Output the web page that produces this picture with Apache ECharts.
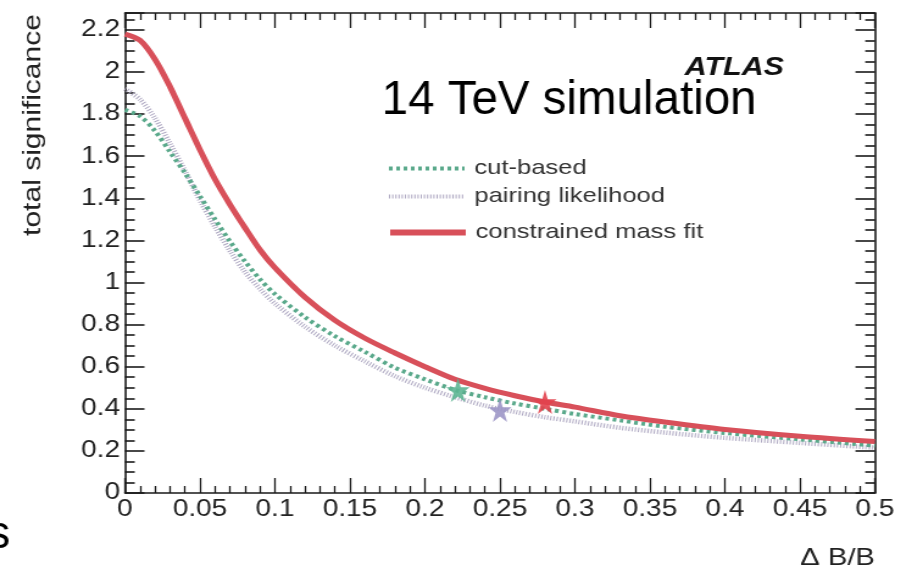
<!DOCTYPE html>
<html>
<head>
<meta charset="utf-8">
<script src="https://cdn.jsdelivr.net/npm/echarts@6/dist/echarts.min.js"></script>
<style>
  html, body { margin: 0; padding: 0; background: #fff; overflow: hidden; }
  /* the plot is laid out on a narrower canvas and widened horizontally */
  #chart { position: absolute; left: 0; top: 0; width: 748px; height: 571px;
           transform: scaleX(1.2193); transform-origin: 0 0; }
</style>
</head>
<body>
<div id="chart"></div>
<script>
// relative background uncertainty (Delta B / B)
const deltaB = [0, 0.01, 0.02, 0.03, 0.04, 0.05, 0.06, 0.07, 0.08, 0.09, 0.10,
                0.12, 0.14, 0.16, 0.18, 0.20, 0.22, 0.24, 0.26, 0.28, 0.30,
                0.33, 0.36, 0.40, 0.45, 0.50];

// total significance for each analysis strategy
const cutBased = [1.82, 1.79, 1.72, 1.62, 1.52, 1.41, 1.30, 1.195, 1.10, 1.015, 0.945,
                  0.835, 0.745, 0.67, 0.595, 0.54, 0.49, 0.455, 0.425, 0.40, 0.375,
                  0.345, 0.315, 0.285, 0.255, 0.225];
const pairingLikelihood = [1.92, 1.87, 1.78, 1.66, 1.53, 1.39, 1.265, 1.15, 1.05, 0.97, 0.90,
                           0.79, 0.70, 0.625, 0.555, 0.50, 0.455, 0.415, 0.385, 0.36, 0.34,
                           0.31, 0.287, 0.262, 0.238, 0.215];
const constrainedMassFit = [2.18, 2.15, 2.06, 1.93, 1.78, 1.63, 1.49, 1.37, 1.26, 1.155, 1.07,
                            0.93, 0.82, 0.735, 0.665, 0.60, 0.54, 0.497, 0.462, 0.432, 0.408,
                            0.367, 0.337, 0.302, 0.27, 0.245];

// expected working points (star markers)
const workingPointNames = ['cut-based', 'pairing likelihood', 'constrained mass fit'];
const workingPointX = [0.222, 0.25, 0.28];
const workingPointY = [0.489, 0.394, 0.432];

const seriesNames = ['cut-based', 'pairing likelihood', 'constrained mass fit'];
const xRange = [0, 0.5];
const yRange = [0, 2.28];

const SX = 1.2193;            // horizontal widening of the canvas
const FONT = 'Liberation Sans, Arial, Helvetica, sans-serif';

const pairs = ys => deltaB.map((x, i) => [x, ys[i]]);

const STAR = 'path://M50,0 L61.2,34.5 L97.6,34.5 L68.2,55.9 L79.4,90.5 L50,69.1 L20.6,90.5 L31.8,55.9 L2.4,34.5 L38.8,34.5 Z';
const starColors = ['#5cb592', '#9c96c6', '#e2414c'];

const chart = echarts.init(document.getElementById('chart'), null, { renderer: 'canvas', width: 748, height: 571 });

const axisLine = { show: true, onZero: false, lineStyle: { color: '#1a1a1a', width: 1.6 } };
const xTickStyle = { inside: true, length: 15, lineStyle: { color: '#1a1a1a', width: 1.3 } };
const yTickStyle = { inside: true, length: 16, lineStyle: { color: '#1a1a1a', width: 1.6 } };

function xAxisDef(pos, showLabel) {
  return {
    type: 'value', position: pos, min: xRange[0], max: xRange[1], interval: 0.05,
    axisLine, axisTick: xTickStyle,
    minorTick: { show: true, splitNumber: 5, length: 7, lineStyle: { color: '#1a1a1a', width: 1.3 } },
    splitLine: { show: false },
    axisLabel: { show: showLabel, fontFamily: FONT, fontSize: 23, color: '#222', margin: 5 }
  };
}
function yAxisDef(pos, showLabel) {
  return {
    type: 'value', position: pos, min: yRange[0], max: yRange[1], interval: 0.2,
    axisLine, axisTick: yTickStyle,
    minorTick: { show: true, splitNumber: 4, length: 8, lineStyle: { color: '#1a1a1a', width: 1.6 } },
    splitLine: { show: false },
    axisLabel: { show: showLabel, fontFamily: FONT, fontSize: 23, color: '#222', margin: 4, showMaxLabel: false }
  };
}

function legendDef(name, top, lineWidth) {
  return {
    data: [name], left: 312, top: top, orient: 'horizontal',
    itemWidth: 62, itemHeight: 10, itemGap: 0,
    itemStyle: { opacity: 0 },
    lineStyle: { width: lineWidth },
    textStyle: { fontFamily: FONT, fontSize: 21, color: '#333', padding: [0, 0, 0, 3] },
    selectedMode: false
  };
}

chart.setOption({
  animation: false,
  backgroundColor: '#fff',
  grid: { left: 102.5, right: 30.4, top: 13, bottom: 78, containLabel: false },
  xAxis: [xAxisDef('bottom', true), xAxisDef('top', false)],
  yAxis: [yAxisDef('left', true), yAxisDef('right', false)],
  legend: [
    legendDef(seriesNames[0], 153, 4),
    legendDef(seriesNames[1], 181, 4),
    legendDef(seriesNames[2], 217, 6)
  ],
  series: [
    {
      name: seriesNames[1], type: 'line', data: pairs(pairingLikelihood),
      smooth: 0.3, symbol: 'none', z: 2,
      lineStyle: { color: '#aea8c2', width: 4.5, type: [1, 1.6] },
      itemStyle: { color: '#aea8c2' }
    },
    {
      name: seriesNames[0], type: 'line', data: pairs(cutBased),
      smooth: 0.3, symbol: 'none', z: 3,
      lineStyle: { color: '#5aa98b', width: 4, type: [3, 3] },
      itemStyle: { color: '#5aa98b' }
    },
    {
      name: seriesNames[2], type: 'line', data: pairs(constrainedMassFit),
      smooth: 0.3, symbol: 'none', z: 4,
      lineStyle: { color: '#d8505a', width: 5 },
      itemStyle: { color: '#d8505a' }
    },
    {
      name: 'working points', type: 'scatter', z: 6,
      symbol: STAR, symbolSize: [19, 24],
      data: workingPointX.map((x, i) => ({
        value: [x, workingPointY[i]],
        name: workingPointNames[i],
        itemStyle: { color: starColors[i], opacity: 0.9 }
      }))
    }
  ],
  graphic: [
    {
      type: 'text', x: 27, y: 125, rotation: Math.PI / 2, scaleX: 1.5, scaleY: 1,
      style: { text: 'total significance', font: '20px ' + FONT, fill: '#222',
               align: 'center', verticalAlign: 'middle' }
    },
    {
      type: 'text', x: 717.6, y: 558,
      style: { text: '\u0394 B/B', font: '24px ' + FONT, fill: '#222',
               align: 'right', verticalAlign: 'middle' }
    },
    {
      type: 'text', x: 643, y: 68,
      style: { text: 'ATLAS', font: 'italic bold 25px ' + FONT, fill: '#111',
               align: 'right', verticalAlign: 'middle' }
    },
    {
      type: 'text', x: 313, y: 101, scaleX: 1 / SX,
      style: { text: '14 TeV simulation', font: '47.5px ' + FONT, fill: '#000',
               align: 'left', verticalAlign: 'middle' }
    },
    {
      type: 'text', x: -10.5, y: 535, scaleX: 1 / SX,
      style: { text: 's', font: '46px ' + FONT, fill: '#000',
               align: 'left', verticalAlign: 'middle' }
    }
  ]
});
</script>
</body>
</html>
